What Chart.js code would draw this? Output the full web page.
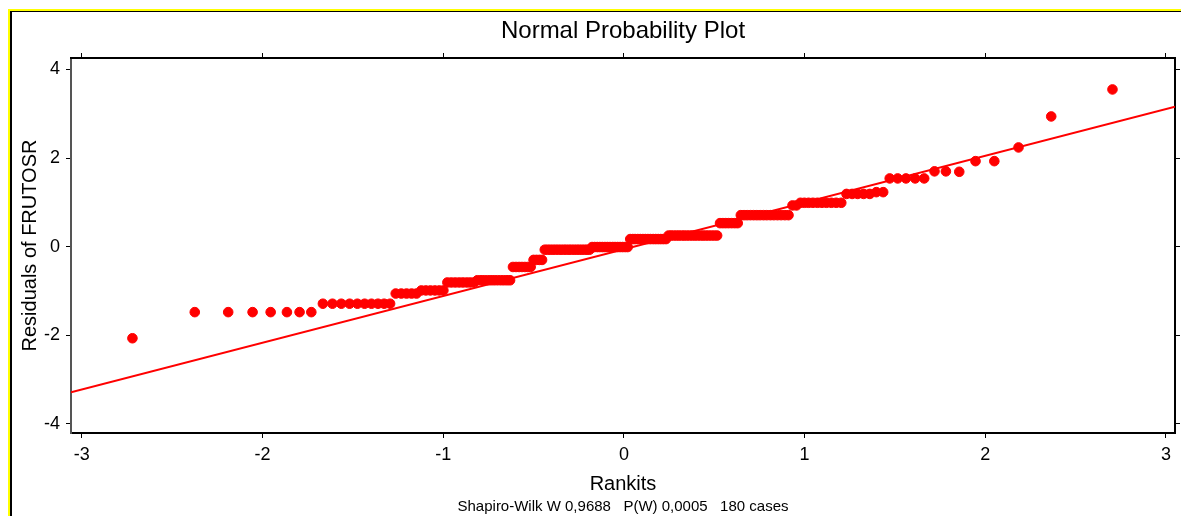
<!DOCTYPE html>
<html>
<head>
<meta charset="utf-8">
<title>Normal Probability Plot</title>
<script src="https://cdn.jsdelivr.net/npm/chart.js@4/dist/chart.umd.min.js"></script>
<style>
    html, body { margin: 0; padding: 0; background: #fff; }
    #wrap { position: relative; width: 1181px; height: 516px; overflow: hidden; }
    .frame-outer { position: absolute; left: 8px; top: 9px; right: -10px; bottom: -10px; border-left: 2px solid #ffff00; border-top: 2px solid #ffff00; }
    .frame-inner { position: absolute; left: 10px; top: 11px; right: -10px; bottom: -10px; border-left: 2px solid #000; border-top: 1px solid #000; }
    #npp { position: absolute; left: 0; top: 0; }
</style>
</head>
<body>
<div id="wrap">
    <div class="frame-outer"></div>
    <div class="frame-inner"></div>
    <canvas id="npp" width="1181" height="516"></canvas>
</div>
<script>
const rankits = [
    -2.72, -2.375, -2.19, -2.055, -1.955, -1.865, -1.795, -1.730, -1.666, -1.613,
    -1.564, -1.518, -1.475, -1.435, -1.397, -1.361, -1.327, -1.294, -1.263, -1.232,
    -1.203, -1.175, -1.148, -1.121, -1.096, -1.071, -1.046, -1.022, -0.999, -0.977,
    -0.955, -0.933, -0.911, -0.891, -0.870, -0.850, -0.830, -0.811, -0.791, -0.773,
    -0.754, -0.736, -0.718, -0.700, -0.682, -0.665, -0.647, -0.630, -0.614, -0.597,
    -0.580, -0.564, -0.548, -0.532, -0.516, -0.500, -0.484, -0.468, -0.453, -0.438,
    -0.423, -0.408, -0.393, -0.378, -0.363, -0.348, -0.333, -0.319, -0.304, -0.290,
    -0.275, -0.261, -0.247, -0.233, -0.218, -0.204, -0.190, -0.176, -0.162, -0.147,
    -0.133, -0.119, -0.105, -0.091, -0.077, -0.062, -0.049, -0.035, -0.021, -0.007,
    0.007, 0.021, 0.035, 0.049, 0.062, 0.077, 0.091, 0.105, 0.119, 0.133,
    0.147, 0.162, 0.176, 0.190, 0.204, 0.218, 0.233, 0.247, 0.261, 0.275,
    0.290, 0.304, 0.319, 0.333, 0.348, 0.363, 0.378, 0.393, 0.408, 0.423,
    0.438, 0.453, 0.468, 0.484, 0.500, 0.516, 0.532, 0.548, 0.564, 0.580,
    0.597, 0.614, 0.630, 0.647, 0.665, 0.682, 0.700, 0.718, 0.736, 0.754,
    0.773, 0.791, 0.811, 0.830, 0.850, 0.870, 0.891, 0.911, 0.933, 0.955,
    0.977, 0.999, 1.022, 1.046, 1.071, 1.096, 1.121, 1.148, 1.175, 1.203,
    1.232, 1.263, 1.294, 1.327, 1.361, 1.397, 1.435, 1.471, 1.515, 1.561,
    1.612, 1.662, 1.719, 1.782, 1.856, 1.946, 2.050, 2.184, 2.365, 2.704
];

// Residuals of FRUTOSR, sorted (same order as rankits)
const residuals = [
    -2.07, -1.48, -1.48, -1.48, -1.48, -1.48, -1.48, -1.48, -1.29, -1.29,
    -1.29, -1.29, -1.29, -1.29, -1.29, -1.29, -1.29, -1.29, -1.06, -1.06,
    -1.06, -1.06, -1.06, -0.99, -0.99, -0.99, -0.99, -0.99, -0.99, -0.81,
    -0.81, -0.81, -0.81, -0.81, -0.81, -0.81, -0.81, -0.76, -0.76, -0.76,
    -0.76, -0.76, -0.76, -0.76, -0.76, -0.76, -0.76, -0.76, -0.46, -0.46,
    -0.46, -0.46, -0.46, -0.46, -0.46, -0.30, -0.30, -0.30, -0.30, -0.07,
    -0.07, -0.07, -0.07, -0.07, -0.07, -0.07, -0.07, -0.07, -0.07, -0.07,
    -0.07, -0.07, -0.07, -0.07, -0.07, -0.07, -0.07, -0.01, -0.01, -0.01,
    -0.01, -0.01, -0.01, -0.01, -0.01, -0.01, -0.01, -0.01, -0.01, -0.01,
    -0.01, -0.01, 0.17, 0.17, 0.17, 0.17, 0.17, 0.17, 0.17, 0.17,
    0.17, 0.17, 0.17, 0.17, 0.17, 0.17, 0.17, 0.25, 0.25, 0.25,
    0.25, 0.25, 0.25, 0.25, 0.25, 0.25, 0.25, 0.25, 0.25, 0.25,
    0.25, 0.25, 0.25, 0.25, 0.25, 0.25, 0.53, 0.53, 0.53, 0.53,
    0.53, 0.53, 0.53, 0.71, 0.71, 0.71, 0.71, 0.71, 0.71, 0.71,
    0.71, 0.71, 0.71, 0.71, 0.71, 0.71, 0.71, 0.71, 0.93, 0.93,
    0.99, 0.99, 0.99, 0.99, 0.99, 0.99, 0.99, 0.99, 0.99, 0.99,
    1.19, 1.19, 1.19, 1.19, 1.19, 1.23, 1.23, 1.54, 1.54, 1.54,
    1.54, 1.54, 1.70, 1.70, 1.69, 1.93, 1.93, 2.24, 2.94, 3.55
];

// Fitted normal line, given at the two ends of the x range
const fitX = [-3.06, 3.05];
const fitY = [-3.29, 3.16];

const xTicks = [-3, -2, -1, 0, 1, 2, 3];
const yTicks = [-4, -2, 0, 2, 4];

const xRange = [-3.06, 3.05];
const yRange = [-4.21, 4.26];

const titleText = 'Normal Probability Plot';
const xTitle = 'Rankits';
const yTitle = 'Residuals of FRUTOSR';
const footerText = 'Shapiro-Wilk W 0,9688   P(W) 0,0005   180 cases';

document.addEventListener('DOMContentLoaded', function () {
    initProbabilityPlot();
});

function axisOptions(position, range, ticks, showLabels, size, color) {
    return {
        type: 'linear',
        position: position,
        min: range[0],
        max: range[1],
        afterBuildTicks: scale => { scale.ticks = ticks.map(v => ({ value: v })); },
        afterFit: scale => {
            if (scale.isHorizontal()) scale.height = size;
            else scale.width = size;
        },
        border: { display: true, color: color, width: 2 },
        grid: {
            display: true,
            drawOnChartArea: false,
            drawTicks: true,
            tickLength: 5,
            color: '#000',
            lineWidth: 1
        },
        ticks: {
            display: showLabels,
            padding: 6,
            color: '#000',
            font: { size: 18 }
        }
    };
}

function initProbabilityPlot() {
    const ctx = document.getElementById('npp');
    if (!ctx) return;

    Chart.defaults.font.family = "'Liberation Sans', Arial, sans-serif";
    Chart.defaults.color = '#000';

    const points = rankits.map((x, i) => ({ x: x, y: residuals[i] }));
    const fitLine = fitX.map((x, i) => ({ x: x, y: fitY[i] }));

    const xAxis = axisOptions('bottom', xRange, xTicks, true, 65, '#000');
    xAxis.title = { display: true, text: xTitle, font: { size: 20 }, padding: { top: 0, bottom: 2 } };

    const yAxis = axisOptions('left', yRange, yTicks, true, 71, '#555');
    yAxis.title = { display: true, text: yTitle, font: { size: 20 }, padding: { top: 18, bottom: 0 } };

    new Chart(ctx, {
        type: 'scatter',
        data: {
            datasets: [{
                label: 'Residuals',
                data: points,
                backgroundColor: '#ff0000',
                borderColor: '#ff0000',
                borderWidth: 1,
                pointRadius: 4.8,
                pointHoverRadius: 4.8
            }, {
                type: 'line',
                label: 'Normal line',
                data: fitLine,
                borderColor: '#ff0000',
                borderWidth: 2,
                pointRadius: 0,
                fill: false
            }]
        },
        options: {
            responsive: false,
            animation: false,
            devicePixelRatio: 1,
            layout: { padding: 0 },
            scales: {
                x: xAxis,
                y: yAxis,
                x2: axisOptions('top', xRange, xTicks, false, 0, '#000'),
                y2: axisOptions('right', yRange, yTicks, false, 6, '#000')
            },
            plugins: {
                legend: { display: false },
                tooltip: { enabled: false },
                title: {
                    display: true,
                    text: titleText,
                    fullSize: false,
                    font: { size: 24, weight: 'normal' },
                    padding: { top: 16.6, bottom: 12.6 }
                },
                subtitle: {
                    display: true,
                    position: 'bottom',
                    text: footerText,
                    fullSize: false,
                    font: { size: 15 },
                    padding: { top: 0, bottom: 0 }
                }
            }
        }
    });
}
</script>
</body>
</html>
